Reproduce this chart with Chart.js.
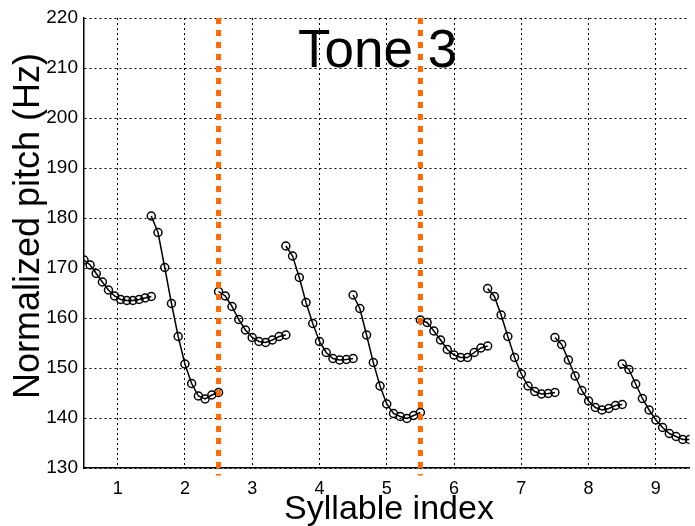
<!DOCTYPE html>
<html>
<head>
<meta charset="utf-8">
<script src="https://cdn.jsdelivr.net/npm/chart.js@4/dist/chart.umd.min.js"></script>
<style>
  html, body { margin: 0; padding: 0; background: #fff; }
  #wrap { width: 695px; height: 526px; }
</style>
</head>
<body>
<div id="wrap"><canvas id="chart"></canvas></div>
<script>
// Normalized pitch contours, one array per syllable (Hz)
const pitch1 = [171.6, 170.6, 168.9, 167.2, 165.6, 164.4, 163.7, 163.5, 163.5, 163.7, 164.0, 164.3];
const pitch2 = [180.4, 177.1, 170.1, 162.9, 156.3, 150.8, 146.9, 144.4, 143.8, 144.6, 145.1];
const pitch3 = [165.3, 164.4, 162.3, 159.7, 157.6, 156.1, 155.3, 155.1, 155.6, 156.3, 156.6];
const pitch4 = [174.4, 172.4, 168.1, 163.1, 158.9, 155.3, 153.1, 151.9, 151.6, 151.7, 151.9];
const pitch5 = [164.6, 161.9, 156.6, 151.1, 146.4, 142.8, 140.9, 140.3, 139.9, 140.5, 141.1];
const pitch6 = [159.6, 159.1, 157.4, 155.6, 153.7, 152.6, 152.1, 152.1, 153.1, 154.0, 154.4];
const pitch7 = [165.9, 164.3, 160.6, 156.3, 152.1, 148.8, 146.4, 145.3, 144.8, 144.9, 145.1];
const pitch8 = [156.1, 154.7, 151.6, 148.4, 145.5, 143.4, 142.1, 141.6, 141.9, 142.5, 142.7];
const pitch9 = [150.8, 149.7, 146.8, 143.9, 141.6, 139.6, 138.1, 136.9, 136.3, 135.7, 135.7];
const syllablePitch = [pitch1, pitch2, pitch3, pitch4, pitch5, pitch6, pitch7, pitch8, pitch9];

const xTicks = [1, 2, 3, 4, 5, 6, 7, 8, 9];
const boundaries = [2.5, 5.5];
const titleText = 'Tone 3';
const xTitle = 'Syllable index';
const yTitle = 'Normalized pitch (Hz)';

const FONT = "'Liberation Sans', Arial, Helvetica, sans-serif";

// each syllable spreads its samples across [k - 0.5, k + 0.5]
const contourSets = syllablePitch.map((vals, i) => {
    const k = i + 1;
    return {
        data: vals.map((y, j) => ({ x: k - 0.5 + j / (vals.length - 1), y })),
        borderColor: '#000', borderWidth: 1.5,
        pointStyle: 'circle', pointRadius: 4, pointBorderWidth: 1.5,
        pointBorderColor: '#000', pointBackgroundColor: 'rgba(255,255,255,0)',
        showLine: true, tension: 0, order: 1,
    };
});

const boundarySets = boundaries.map(b => ({
    data: [{ x: b, y: 220 }, { x: b, y: 128.5 }],
    borderColor: '#ff6a00', borderWidth: 5, borderDash: [6, 6],
    pointRadius: 0, showLine: true, clip: false, order: 0,
}));

// title inside the plot plus the two axis titles, drawn by hand for placement
const textPlugin = {
    id: 'texts',
    afterDatasetsDraw(chart) {
        const { ctx, chartArea } = chart;
        ctx.save();
        ctx.fillStyle = '#000';
        ctx.textAlign = 'center';
        ctx.textBaseline = 'alphabetic';

        ctx.font = '53px ' + FONT;
        ctx.fillText(titleText, chartArea.left + chartArea.width * 0.485, 67);

        ctx.font = '34px ' + FONT;
        ctx.fillText(xTitle, 389, 519);

        ctx.translate(39, 226);
        ctx.rotate(-Math.PI / 2);
        ctx.font = '36px ' + FONT;
        ctx.fillText(yTitle, 0, 0);
        ctx.restore();
    }
};

new Chart(document.getElementById('chart').getContext('2d'), {
    type: 'scatter',
    data: { datasets: [...contourSets, ...boundarySets] },
    options: {
        responsive: true, maintainAspectRatio: false, animation: false,
        layout: { padding: { top: 18, right: 5, left: 0, bottom: 0 } },
        plugins: { legend: { display: false }, tooltip: { enabled: false } },
        scales: {
            x: {
                type: 'linear', min: 0.5, max: 9.5,
                afterBuildTicks: s => { s.ticks = xTicks.map(v => ({ value: v })); },
                afterFit: s => { s.height = 58; },
                grid: { color: '#000', lineWidth: 1, drawTicks: false },
                border: { display: true, color: '#000', width: 1.5, dash: [2, 3] },
                ticks: { color: '#000', font: { family: FONT, size: 18 }, padding: 10 },
            },
            y: {
                min: 130, max: 220,
                ticks: { stepSize: 10, color: '#000', font: { family: FONT, size: 19 }, padding: 6 },
                afterFit: s => { s.width = 84; },
                grid: { color: '#000', lineWidth: 1, drawTicks: false },
                border: { display: true, color: '#000', width: 1.5, dash: [2, 3] },
            }
        }
    },
    plugins: [textPlugin]
});
</script>
</body>
</html>
